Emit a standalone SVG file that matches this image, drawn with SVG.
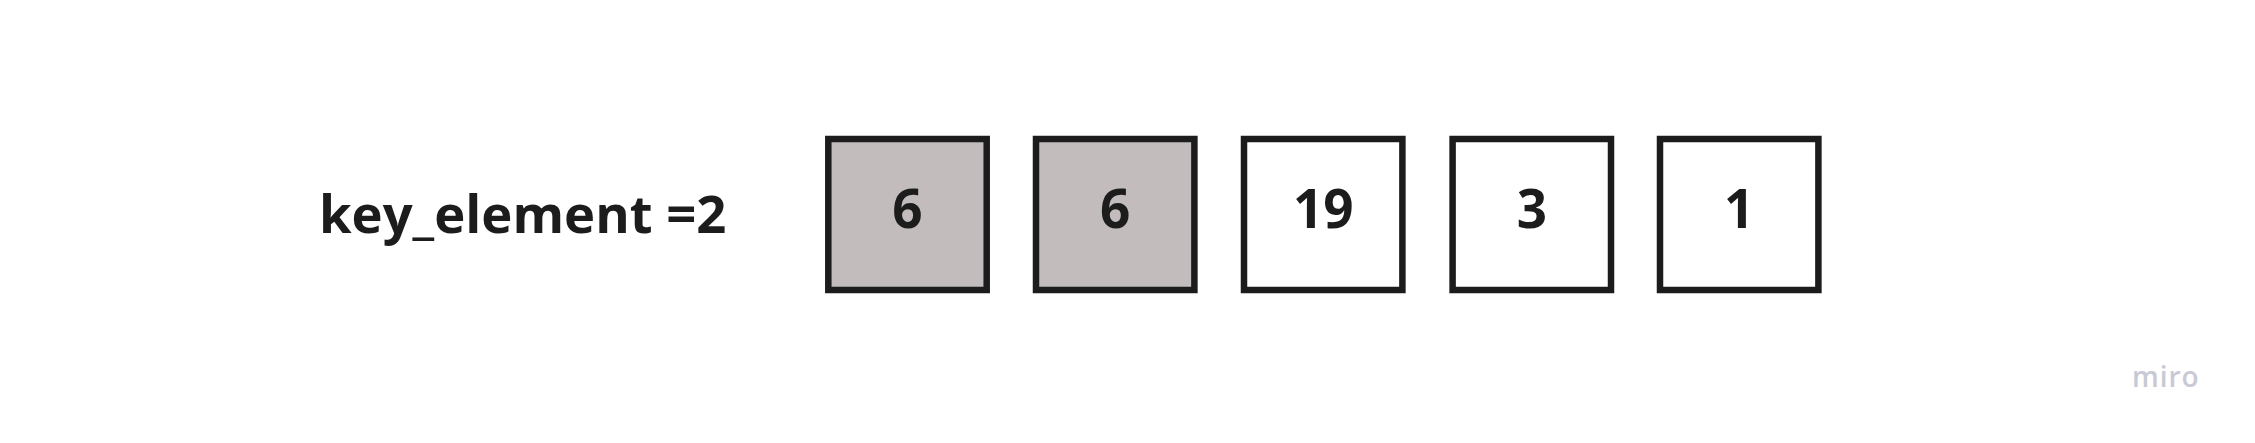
<svg xmlns="http://www.w3.org/2000/svg" width="2255" height="443" viewBox="0 0 2255 443">
<style>
.box{stroke:#1c1c1c;stroke-width:6.5;}
.grey{fill:#c2bcbc;}
.white{fill:#ffffff;}
.t{font-family:"Open Sans","Liberation Sans",sans-serif;font-weight:bold;font-size:53px;fill:#1c1c1c;}
.lbl{font-size:52.6px;}
.n{text-anchor:middle;}
.logo{font-family:"Open Sans","Liberation Sans",sans-serif;font-size:28px;fill:#c9c9d6;font-weight:600;letter-spacing:1px;}
</style>
<rect width="2255" height="443" fill="#ffffff"/>
<g id="label"><text class="t lbl" x="319" y="233">key_element =2</text></g>
<g id="node1"><rect class="box grey" x="828.3" y="139" width="158.4" height="151"/><text class="t n" x="907.5" y="228">6</text></g>
<g id="node2"><rect class="box grey" x="1036" y="139" width="158.4" height="151"/><text class="t n" x="1115.2" y="228">6</text></g>
<g id="node3"><rect class="box white" x="1244" y="139" width="158.4" height="151"/><text class="t n" x="1323.2" y="228">19</text></g>
<g id="node4"><rect class="box white" x="1452.6" y="139" width="158.4" height="151"/><text class="t n" x="1531.8" y="228">3</text></g>
<g id="node5"><rect class="box white" x="1660" y="139" width="158.4" height="151"/><text class="t n" x="1739.2" y="228">1</text></g>
<g id="connectors"></g>
<text class="logo" x="2132" y="387">miro</text>
</svg>
